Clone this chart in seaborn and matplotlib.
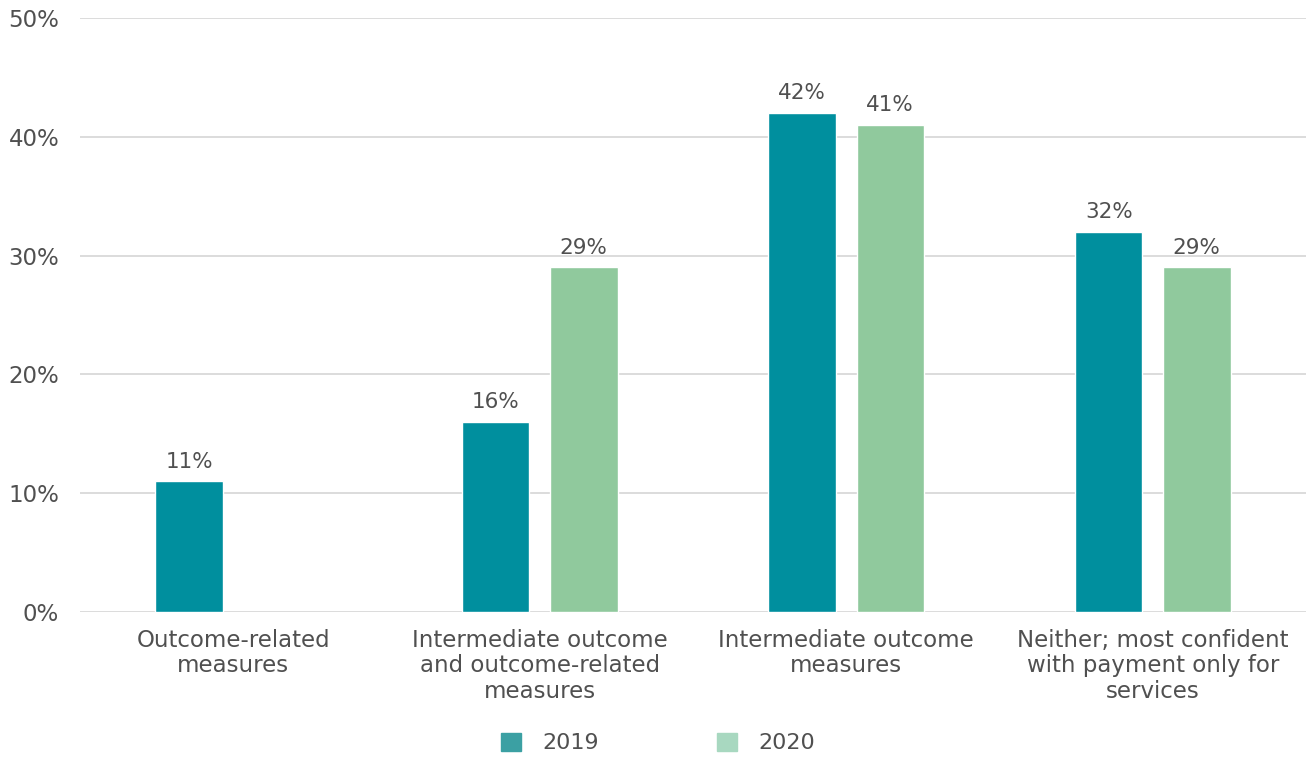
import matplotlib
matplotlib.use("Agg")
import matplotlib.pyplot as plt
import seaborn as sns
import pandas as pd
from matplotlib.patches import Patch

categories = ["Outcome-related\nmeasures",
              "Intermediate outcome\nand outcome-related\nmeasures",
              "Intermediate outcome\nmeasures",
              "Neither; most confident\nwith payment only for\nservices"]
years = ["2019", "2020"]
values_2019 = [11, 16, 42, 32]
values_2020 = [None, 29, 41, 29]

rows = []
for c, a, b in zip(categories, values_2019, values_2020):
    rows.append({"cat": c, "year": "2019", "val": a})
    rows.append({"cat": c, "year": "2020", "val": b})
df = pd.DataFrame(rows)

sns.set_theme(style="white")
plt.rcParams['font.family'] = ['DejaVu Sans']
text_color = "#505050"

fig = plt.figure(figsize=(13.06, 7.58), dpi=100)
ax = fig.add_axes([80/1306, 1-612/758, (1306-80)/1306, (612-18)/758])

bar_colors = {"2019": "#008F9E", "2020": "#90C99D"}
sns.barplot(data=df, x="cat", y="val", hue="year", hue_order=years,
            palette=bar_colors, width=0.575, gap=0.235, ax=ax,
            legend=False, errorbar=None, saturation=1)

for cont in ax.containers:
    labels = [("" if (v != v) else f"{int(round(v))}%") for v in cont.datavalues]
    ax.bar_label(cont, labels=labels, padding=7, fontsize=15.5, color=text_color)

ax.set_ylim(0, 50)
ax.set_xlim(-0.5, 3.5)
ax.set_yticks(range(0, 51, 10))
ax.set_yticklabels([f"{t}%" for t in range(0, 51, 10)], fontsize=16.5, color=text_color)
ax.tick_params(axis='y', pad=15, length=0)
ax.tick_params(axis='x', pad=12, length=0)
for lab in ax.get_xticklabels():
    lab.set_fontsize(16.5)
    lab.set_color(text_color)
    lab.set_linespacing(1.15)
ax.set_xlabel("")
ax.set_ylabel("")
ax.yaxis.grid(True, color="#D9D9D9", linewidth=1.3)
ax.set_axisbelow(True)
for s in ax.spines.values():
    s.set_visible(False)

handles = [Patch(color="#3BA0A3", label="2019"), Patch(color="#A8D8C0", label="2020")]
fig.legend(handles=handles, loc="center", bbox_to_anchor=(658/1306, 1-743/758),
           ncol=2, frameon=False, fontsize=16, handlelength=0.9, handleheight=0.9,
           columnspacing=5.3, handletextpad=0.95, labelcolor=text_color)

fig.savefig("out.png", dpi=100)
